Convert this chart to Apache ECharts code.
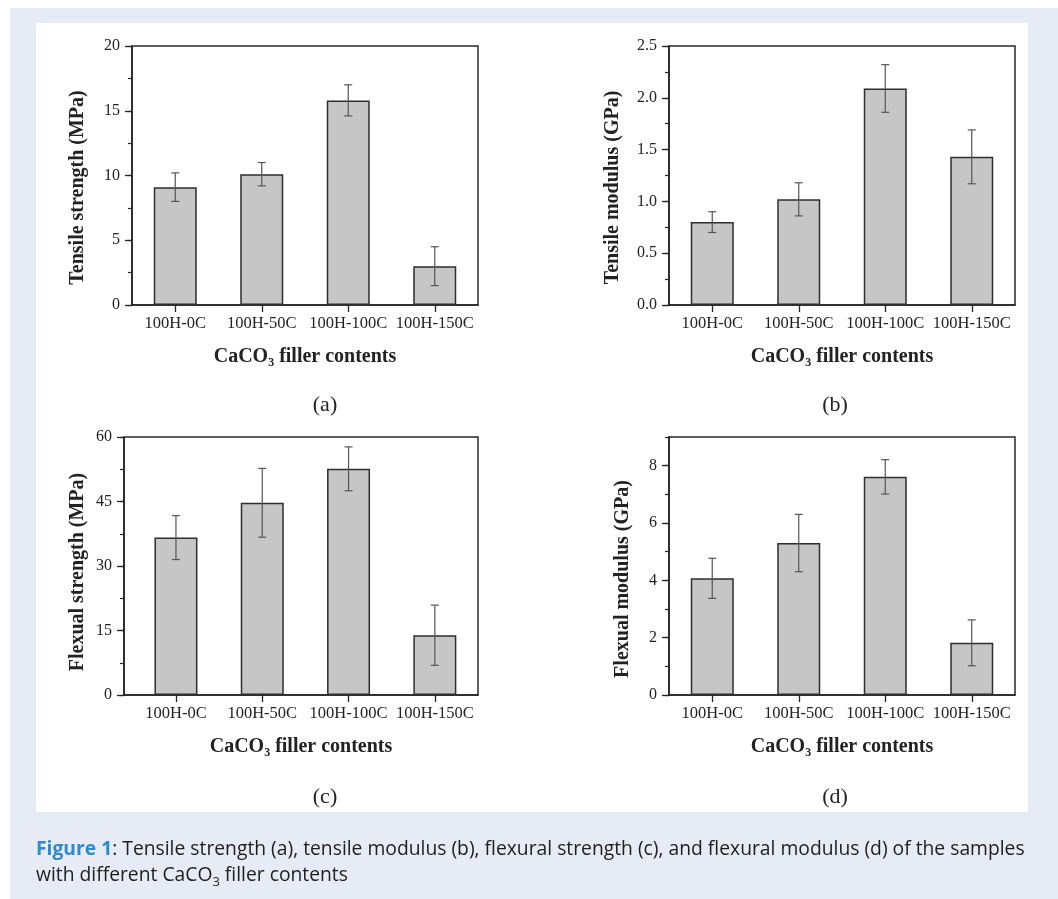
<!DOCTYPE html>
<html><head><meta charset="utf-8">
<script src="https://cdn.jsdelivr.net/npm/echarts@6/dist/echarts.min.js"></script>
<style>html,body{margin:0;padding:0;background:#fff}#c{width:1058px;height:899px}</style>
</head><body><div id="c"></div>
<script>
// ---- data ----
const categories = ['100H-0C', '100H-50C', '100H-100C', '100H-150C'];
const tensileStrength = [9.1, 10.1, 15.8, 3.0];
const tensileStrengthErr = [1.1, 0.9, 1.2, 1.5];
const tensileModulus = [0.80, 1.02, 2.09, 1.43];
const tensileModulusErr = [0.10, 0.16, 0.23, 0.26];
const flexuralStrength = [36.6, 44.7, 52.6, 13.9];
const flexuralStrengthErr = [5.1, 8.0, 5.1, 7.0];
const flexuralModulus = [4.07, 5.30, 7.61, 1.82];
const flexuralModulusErr = [0.70, 1.00, 0.60, 0.80];
const ticksA = [0, 5, 10, 15, 20];
const ticksB = [0, 0.5, 1.0, 1.5, 2.0, 2.5];
const ticksC = [0, 15, 30, 45, 60];
const ticksD = [0, 2, 4, 6, 8];

const SERIF = 'Liberation Serif';
const INK = '#222';

const panels = [
  {vals: tensileStrength, errs: tensileStrengthErr, ticks: ticksA, max: 20, minor: 2.5, dec: 0,
   name: 'Tensile strength (MPa)', left: 132, top: 46, w: 346, h: 259, xmin: 0.5, gap: 44, shift: 12,
   tag: '(a)', tx: 325, ty: 405},
  {vals: tensileModulus, errs: tensileModulusErr, ticks: ticksB, max: 2.5, minor: 0.25, dec: 1,
   name: 'Tensile modulus (GPa)', left: 669, top: 46, w: 346, h: 259, xmin: 0.5, gap: 46, shift: 12,
   tag: '(b)', tx: 835, ty: 405},
  {vals: flexuralStrength, errs: flexuralStrengthErr, ticks: ticksC, max: 60, minor: 7.5, dec: 0,
   name: 'Flexual strength (MPa)', left: 124, top: 437, w: 354, h: 258, xmin: 0.398, gap: 36, shift: 6,
   tag: '(c)', tx: 325, ty: 797},
  {vals: flexuralModulus, errs: flexuralModulusErr, ticks: ticksD, max: 9, minor: 1, dec: 0,
   name: 'Flexual modulus (GPa)', left: 669, top: 437, w: 346, h: 258, xmin: 0.5, gap: 36, shift: 13,
   tag: '(d)', tx: 835, ty: 797}
];

const grids = [], xAxes = [], yAxes = [], series = [], tags = [];
panels.forEach((p, i) => {
  grids.push({left: p.left, top: p.top, width: p.w, height: p.h, show: true,
    borderColor: '#2a2a2a', borderWidth: 1.5, backgroundColor: 'transparent'});
  xAxes.push({
    type: 'value', gridIndex: i, min: p.xmin, max: 4.5,
    axisLine: {show: true, onZero: false, lineStyle: {color: INK, width: 1.5}},
    splitLine: {show: false},
    axisTick: {show: true, customValues: [1, 2, 3, 4], length: 7, lineStyle: {color: INK, width: 1.3}},
    axisLabel: {customValues: [1, 2, 3, 4], formatter: v => categories[Math.round(v) - 1] || '',
      margin: 10, fontFamily: SERIF, fontSize: 16.5, color: INK},
    name: '{m|CaCO}{s|3}{m| filler contents}', nameLocation: 'middle', nameGap: 40,
    nameTextStyle: {
      rich: {
        m: {fontFamily: SERIF, fontWeight: 'bold', fontSize: 20, color: INK, lineHeight: 24, verticalAlign: 'middle'},
        s: {fontFamily: SERIF, fontWeight: 'bold', fontSize: 12, color: INK, lineHeight: 8, verticalAlign: 'bottom'}
      }
    }
  });
  yAxes.push({
    type: 'value', gridIndex: i, min: 0, max: p.max, position: 'left',
    axisLine: {show: true, lineStyle: {color: INK, width: 1.5}},
    splitLine: {show: false},
    axisTick: {show: true, customValues: p.ticks, length: 7, lineStyle: {color: INK, width: 1.3}},
    axisLabel: {customValues: p.ticks, formatter: v => v.toFixed(p.dec), margin: 12,
      fontFamily: SERIF, fontSize: 16, color: INK},
    name: p.name, nameLocation: 'middle', nameGap: p.gap,
    nameTextStyle: {fontFamily: SERIF, fontWeight: 'bold', fontSize: 20, color: INK,
      padding: [0, 2 * p.shift, 0, 0]}
  });
  yAxes.push({
    type: 'value', gridIndex: i, min: 0, max: p.max, interval: p.minor, position: 'left',
    axisLine: {show: false}, splitLine: {show: false}, axisLabel: {show: false},
    axisTick: {show: true, length: 4, lineStyle: {color: INK, width: 1.2}}
  });
  series.push({
    type: 'bar', xAxisIndex: i, yAxisIndex: i * 2, barWidth: 43,
    data: p.vals.map((v, k) => [k + 1, v]),
    itemStyle: {color: '#c6c6c6', borderColor: '#2e2e2e', borderWidth: 1.5},
    silent: true, animation: false
  });
  series.push({
    type: 'custom', xAxisIndex: i, yAxisIndex: i * 2, z: 5, animation: false, silent: true,
    data: p.vals.map((v, k) => [k + 1, v - p.errs[k], v + p.errs[k]]),
    encode: {x: 0, y: [1, 2]},
    renderItem: (params, api) => {
      const x = api.value(0);
      const lo = api.coord([x, api.value(1)]);
      const hi = api.coord([x, api.value(2)]);
      const cw = 4;
      const st = {stroke: '#555', lineWidth: 1.2};
      return {type: 'group', children: [
        {type: 'line', shape: {x1: lo[0], y1: lo[1], x2: hi[0], y2: hi[1]}, style: st},
        {type: 'line', shape: {x1: hi[0] - cw, y1: hi[1], x2: hi[0] + cw, y2: hi[1]}, style: st},
        {type: 'line', shape: {x1: lo[0] - cw, y1: lo[1], x2: lo[0] + cw, y2: lo[1]}, style: st}
      ]};
    }
  });
  tags.push({type: 'text', x: p.tx, y: p.ty, z: 10,
    style: {text: p.tag, font: '22px "Liberation Serif"', fill: INK, textAlign: 'center', textVerticalAlign: 'middle'}});
});

const chart = echarts.init(document.getElementById('c'), null, {renderer: 'canvas'});
chart.setOption({
  animation: false,
  backgroundColor: '#ffffff',
  grid: grids, xAxis: xAxes, yAxis: yAxes, series: series,
  graphic: [
    {type: 'rect', z: -10, shape: {x: 10, y: 8, width: 1048, height: 891}, style: {fill: '#e7ebf6'}},
    {type: 'rect', z: -9, shape: {x: 36, y: 23, width: 992, height: 789}, style: {fill: '#ffffff'}},
    ...tags,
    {type: 'text', x: 36, y: 837, z: 10,
      style: {
        text: '{b|Figure 1}{n|: Tensile strength (a), tensile modulus (b), flexural strength (c), and flexural modulus (d) of the samples}\n{n|with different CaCO}{s|3}{n| filler contents}',
        rich: {
          b: {fontFamily: 'Open Sans', fontWeight: 'bold', fontSize: 19.3, fill: '#2b8bcd', lineHeight: 26, verticalAlign: 'middle'},
          n: {fontFamily: 'Open Sans', fontSize: 19.3, fill: '#1e1e1e', lineHeight: 26, verticalAlign: 'middle'},
          s: {fontFamily: 'Open Sans', fontSize: 13, fill: '#1e1e1e', lineHeight: 14, verticalAlign: 'bottom'}
        },
        textVerticalAlign: 'top'
      }}
  ]
});
</script></body></html>
